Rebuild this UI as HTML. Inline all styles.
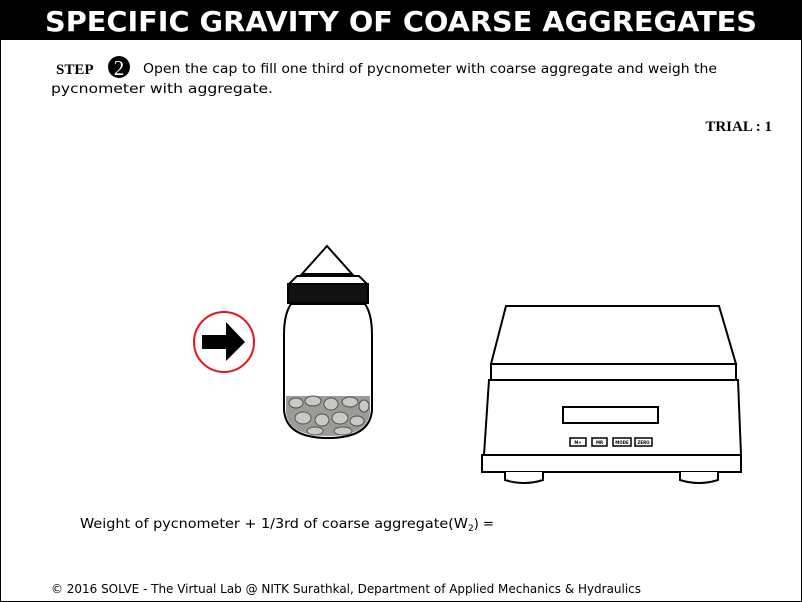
<!DOCTYPE html>
<html><head><meta charset="utf-8"><style>
html,body{margin:0;padding:0;background:#fff;}
svg{display:block;font-family:"DejaVu Sans","Liberation Sans",sans-serif;}
</style></head><body>
<svg width="802" height="602" viewBox="0 0 802 602">
<rect x="0.5" y="0.5" width="801" height="601" fill="#fff" stroke="#000"/>
<rect x="0" y="0" width="802" height="40" fill="#000"/>
<text x="401" y="31" text-anchor="middle" fill="#fff" font-weight="bold" font-size="28" textLength="712" lengthAdjust="spacingAndGlyphs">SPECIFIC GRAVITY OF COARSE AGGREGATES</text>
<text x="56" y="74" font-family="Liberation Serif,serif" font-weight="bold" font-size="15">STEP</text>
<circle cx="119" cy="67" r="11" fill="#000"/>
<text x="119" y="75" text-anchor="middle" fill="#fff" font-family="Liberation Serif,serif" font-size="21">2</text>
<text x="143" y="73" font-size="13" textLength="574" lengthAdjust="spacingAndGlyphs">Open the cap to fill one third of pycnometer with coarse aggregate and weigh the</text>
<text x="51" y="93" font-size="13" textLength="222" lengthAdjust="spacingAndGlyphs">pycnometer with aggregate.</text>
<text x="772" y="131" text-anchor="end" font-family="Liberation Serif,serif" font-weight="bold" font-size="15">TRIAL : 1</text>
<g>
<circle cx="224" cy="342" r="30" fill="#fff" stroke="#e8141c" stroke-width="2"/>
<polygon points="202,335 226,335 226,322 245,342 226,361 226,349 202,349" fill="#000"/>
</g>
<g stroke="#000" fill="none" stroke-width="2">
<polygon points="327,246 302,274 352,274" fill="#fff"/>
<path d="M297,276 L359,276 L367,284 L289,284 Z" fill="#fff"/>
<rect x="288" y="284" width="80" height="19" fill="#111"/>
<path d="M291,304 Q284,314 284,335 L284,410 Q286,438 328,438 Q370,438 372,410 L372,335 Q372,314 365,304 Z" fill="#fff"/>
<path d="M286,396 L370,396 L370,412 Q368,436 328,436 Q288,436 286,412 Z" fill="#9a9c98" stroke="none"/>
<g stroke="#555" stroke-width="1" fill="#c8c9c4">
<ellipse cx="296" cy="403" rx="7" ry="5"/><ellipse cx="313" cy="401" rx="8" ry="5"/><ellipse cx="331" cy="404" rx="7" ry="6"/><ellipse cx="350" cy="402" rx="8" ry="5"/><ellipse cx="364" cy="406" rx="5" ry="6"/>
<ellipse cx="303" cy="418" rx="8" ry="6"/><ellipse cx="322" cy="420" rx="7" ry="6"/><ellipse cx="340" cy="418" rx="8" ry="6"/><ellipse cx="357" cy="421" rx="7" ry="5"/><ellipse cx="315" cy="431" rx="8" ry="4"/><ellipse cx="343" cy="431" rx="9" ry="4"/>
</g>
</g>
<g stroke="#000" stroke-width="2" fill="#fff">
<polygon points="506,306 719,306 736,364 491,364"/>
<rect x="491" y="364" width="245" height="16"/>
<polygon points="489,380 738,380 741,455 484,455"/>
<rect x="563" y="407" width="95" height="16"/>
<rect x="482" y="455" width="259" height="17"/>
<path d="M505,472 L505,480 Q524,486 543,480 L543,472"/>
<path d="M680,472 L680,480 Q699,486 718,480 L718,472"/>
</g>
<g font-size="4" font-weight="bold" text-anchor="middle">
<rect x="570" y="438" width="16" height="8" fill="#fff" stroke="#000" stroke-width="1.5"/><text x="578" y="444">M+</text>
<rect x="592" y="438" width="15" height="8" fill="#fff" stroke="#000" stroke-width="1.5"/><text x="599.5" y="444">MR</text>
<rect x="613" y="438" width="18" height="8" fill="#fff" stroke="#000" stroke-width="1.5"/><text x="622" y="444">MODE</text>
<rect x="635" y="438" width="17" height="8" fill="#fff" stroke="#000" stroke-width="1.5"/><text x="643.5" y="444">ZERO</text>
</g>
<text x="80" y="528" font-size="13"><tspan textLength="388" lengthAdjust="spacingAndGlyphs">Weight of pycnometer + 1/3rd of coarse aggregate(W</tspan><tspan font-size="9" dy="3">2</tspan><tspan dy="-3">) =</tspan></text>
<text x="51" y="593" font-size="12" textLength="590" lengthAdjust="spacingAndGlyphs">© 2016 SOLVE - The Virtual Lab @ NITK Surathkal, Department of Applied Mechanics &amp; Hydraulics</text>
</svg>
</body></html>
